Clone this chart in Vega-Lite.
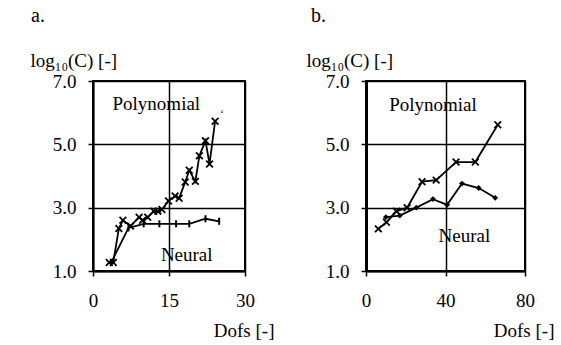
{
  "$schema": "https://vega.github.io/schema/vega-lite/v6.json",
  "padding": {"left": 29, "top": 5, "right": 8, "bottom": 8},
  "bounds": "flush",
  "spacing": 121,
  "background": "white",
  "config": {
    "font": "Liberation Serif",
    "view": {"stroke": "black", "strokeWidth": 2},
    "axis": {
      "labelFont": "Liberation Serif", "labelFontSize": 19, "labelColor": "black",
      "titleFont": "Liberation Serif", "titleFontSize": 19, "titleFontWeight": "normal", "titleColor": "black",
      "domainColor": "black", "domainWidth": 2, "tickColor": "black", "tickWidth": 1.5, "tickSize": 5,
      "gridColor": "black", "gridWidth": 1.5, "gridOpacity": 1
    },
    "title": {"font": "Liberation Serif", "fontSize": 20, "fontWeight": "normal", "color": "black"},
    "text": {"font": "Liberation Serif", "fontSize": 19, "color": "black"}
  },
  "hconcat": [
    {
      "title": {"text": "a.", "anchor": "start", "frame": "group", "dx": -62, "offset": 25},
      "width": 152,
      "height": 190,
      "data": {"values": [
        {"series": "Polynomial", "x": 3.2, "y": 1.27},
        {"series": "Polynomial", "x": 4.0, "y": 1.27},
        {"series": "Polynomial", "x": 5.1, "y": 2.34},
        {"series": "Polynomial", "x": 5.9, "y": 2.6},
        {"series": "Polynomial", "x": 7.4, "y": 2.42},
        {"series": "Polynomial", "x": 9.1, "y": 2.7},
        {"series": "Polynomial", "x": 9.8, "y": 2.6},
        {"series": "Polynomial", "x": 10.8, "y": 2.7},
        {"series": "Polynomial", "x": 12.0, "y": 2.89},
        {"series": "Polynomial", "x": 12.8, "y": 2.89},
        {"series": "Polynomial", "x": 13.6, "y": 2.94},
        {"series": "Polynomial", "x": 14.9, "y": 3.21},
        {"series": "Polynomial", "x": 16.2, "y": 3.37},
        {"series": "Polynomial", "x": 17.0, "y": 3.3},
        {"series": "Polynomial", "x": 18.2, "y": 3.81},
        {"series": "Polynomial", "x": 19.0, "y": 4.18},
        {"series": "Polynomial", "x": 20.2, "y": 3.83},
        {"series": "Polynomial", "x": 21.0, "y": 4.64},
        {"series": "Polynomial", "x": 22.2, "y": 5.11},
        {"series": "Polynomial", "x": 23.0, "y": 4.38},
        {"series": "Polynomial", "x": 24.1, "y": 5.73},
        {"series": "Neural", "x": 3.6, "y": 1.27},
        {"series": "Neural", "x": 7.0, "y": 2.36},
        {"series": "Neural", "x": 10.0, "y": 2.49},
        {"series": "Neural", "x": 13.1, "y": 2.49},
        {"series": "Neural", "x": 16.4, "y": 2.49},
        {"series": "Neural", "x": 19.0, "y": 2.49},
        {"series": "Neural", "x": 22.2, "y": 2.65},
        {"series": "Neural", "x": 24.9, "y": 2.57}
      ]},
      "encoding": {
        "x": {"field": "x", "type": "quantitative", "scale": {"domain": [0, 30]},
          "axis": {"values": [0, 15, 30], "grid": true, "labelPadding": 15, "labelFlush": false,
            "title": "Dofs [-]", "titleX": 181, "titleY": 59, "titleAlign": "right", "titleBaseline": "middle"}},
        "y": {"field": "y", "type": "quantitative", "scale": {"domain": [1, 7]},
          "axis": {"values": [1, 3, 5, 7], "format": ".1f", "grid": true, "labelPadding": 12, "labelFlush": false,
            "title": "log₁₀(C) [-]", "titleAngle": 0, "titleX": -63, "titleY": -15, "titleAlign": "left", "titleBaseline": "alphabetic"}}
      },
      "layer": [
        {"mark": {"type": "line", "color": "black", "strokeWidth": 1.8}, "encoding": {"detail": {"field": "series"}}},
        {"transform": [{"filter": "datum.series == 'Polynomial'"}],
          "mark": {"type": "point", "shape": "M-1,-1L1,1M-1,1L1,-1", "size": 45, "filled": false, "stroke": "black", "strokeWidth": 1.8, "opacity": 1}},
        {"transform": [{"filter": "datum.series == 'Neural'"}],
          "mark": {"type": "point", "shape": "M0,-1L0,1", "size": 50, "filled": false, "stroke": "black", "strokeWidth": 2, "opacity": 1}},
        {"data": {"values": [
            {"label": "Polynomial", "x": 12.5, "y": 6.1, "size": 19},
            {"label": "Neural", "x": 18.5, "y": 1.33, "size": 19},
            {"label": "‘", "x": 25.5, "y": 5.85, "size": 11}
          ]},
          "mark": {"type": "text", "baseline": "alphabetic", "align": "center"},
          "encoding": {"text": {"field": "label"}, "size": {"field": "size", "type": "quantitative", "scale": null}}}
      ]
    },
    {
      "title": {"text": "b.", "anchor": "start", "frame": "group", "dx": -55, "offset": 25},
      "width": 159,
      "height": 190,
      "data": {"values": [
        {"series": "Polynomial", "x": 6.2, "y": 2.33},
        {"series": "Polynomial", "x": 10.3, "y": 2.54},
        {"series": "Polynomial", "x": 15.3, "y": 2.89},
        {"series": "Polynomial", "x": 20.7, "y": 3.0},
        {"series": "Polynomial", "x": 28.2, "y": 3.82},
        {"series": "Polynomial", "x": 35.3, "y": 3.87},
        {"series": "Polynomial", "x": 45.3, "y": 4.44},
        {"series": "Polynomial", "x": 55.0, "y": 4.44},
        {"series": "Polynomial", "x": 66.3, "y": 5.62},
        {"series": "Neural", "x": 10.0, "y": 2.7},
        {"series": "Neural", "x": 17.0, "y": 2.75},
        {"series": "Neural", "x": 25.3, "y": 3.0},
        {"series": "Neural", "x": 33.7, "y": 3.27},
        {"series": "Neural", "x": 40.8, "y": 3.09},
        {"series": "Neural", "x": 48.3, "y": 3.76},
        {"series": "Neural", "x": 56.7, "y": 3.62},
        {"series": "Neural", "x": 65.0, "y": 3.31}
      ]},
      "encoding": {
        "x": {"field": "x", "type": "quantitative", "scale": {"domain": [0, 80]},
          "axis": {"values": [0, 40, 80], "grid": true, "labelPadding": 15, "labelFlush": false,
            "title": "Dofs [-]", "titleX": 188, "titleY": 59, "titleAlign": "right", "titleBaseline": "middle"}},
        "y": {"field": "y", "type": "quantitative", "scale": {"domain": [1, 7]},
          "axis": {"values": [1, 3, 5, 7], "format": ".1f", "grid": true, "labelPadding": 12, "labelFlush": false, "domainWidth": 3,
            "title": "log₁₀(C) [-]", "titleAngle": 0, "titleX": -60, "titleY": -15, "titleAlign": "left", "titleBaseline": "alphabetic"}}
      },
      "layer": [
        {"mark": {"type": "line", "color": "black", "strokeWidth": 1.8}, "encoding": {"detail": {"field": "series"}}},
        {"transform": [{"filter": "datum.series == 'Polynomial'"}],
          "mark": {"type": "point", "shape": "M-1,-1L1,1M-1,1L1,-1", "size": 45, "filled": false, "stroke": "black", "strokeWidth": 1.8, "opacity": 1}},
        {"transform": [{"filter": "datum.series == 'Neural'"}],
          "mark": {"type": "point", "shape": "diamond", "size": 35, "filled": true, "color": "black", "opacity": 1}},
        {"data": {"values": [
            {"label": "Polynomial", "x": 33.7, "y": 6.05},
            {"label": "Neural", "x": 49.5, "y": 1.92}
          ]},
          "mark": {"type": "text", "baseline": "alphabetic", "align": "center", "fontSize": 19},
          "encoding": {"text": {"field": "label"}}}
      ]
    }
  ]
}
